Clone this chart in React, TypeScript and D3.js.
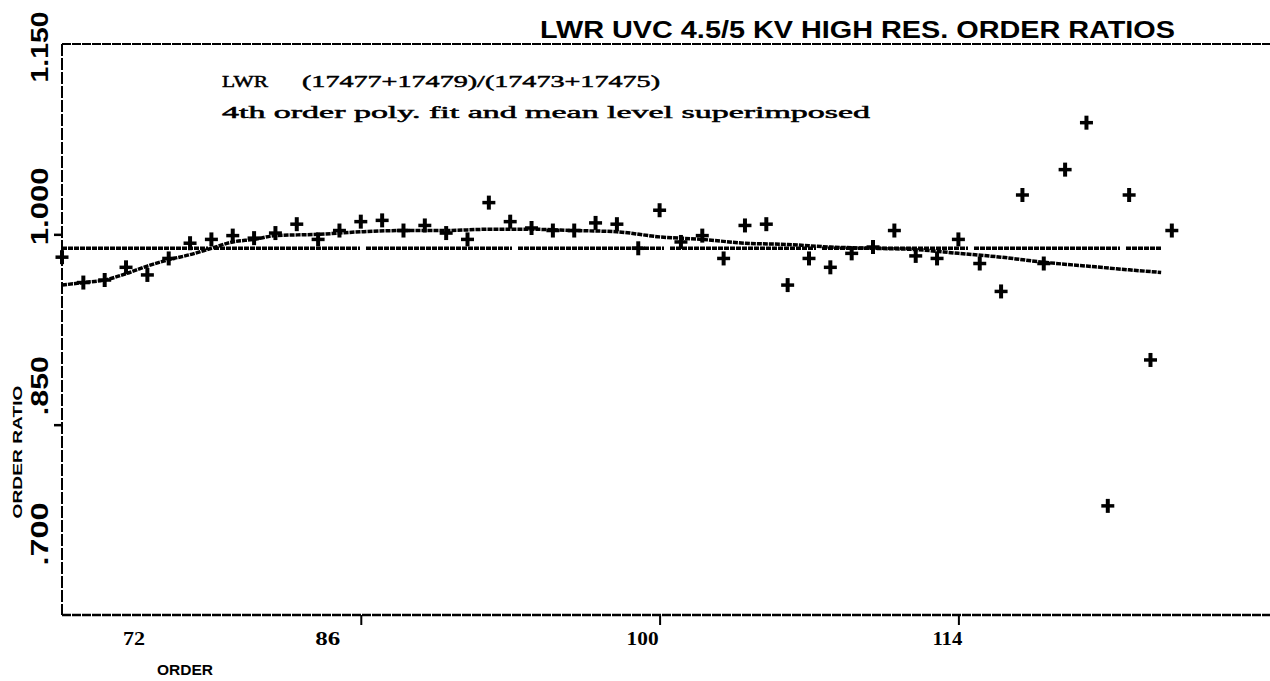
import React, { useEffect, useRef } from "react";
import * as d3 from "d3";

// echelle orders and measured ratios (one cross per order)
const orders = [
  72, 73, 74, 75, 76, 77, 78, 79, 80, 81, 82, 83, 84, 85, 86, 87, 88, 89,
  90, 91, 92, 93, 94, 95, 96, 97, 98, 99, 100, 101, 102, 103, 104, 105, 106,
  107, 108, 109, 110, 111, 112, 113, 114, 115, 116, 117, 118, 119, 120, 121,
  122, 123, 124,
];
const ratios = [
  0.982, 0.962, 0.964, 0.974, 0.968, 0.981, 0.993, 0.996, 0.999, 0.997, 1.001,
  1.008, 0.996, 1.003, 1.01, 1.011, 1.003, 1.007, 1.001, 0.996, 1.025, 1.01,
  1.005, 1.003, 1.003, 1.009, 1.008, 0.989, 1.019, 0.994, 0.999, 0.981, 1.007,
  1.008, 0.96, 0.981, 0.974, 0.985, 0.99, 1.003, 0.983, 0.981, 0.996, 0.977,
  0.955, 1.031, 0.977, 1.051, 1.088, 0.786, 1.031, 0.901, 1.003,
];

// 4th order polynomial fit
const fitOrders = [
  72, 73, 74, 75, 76, 77, 78, 79, 80, 81, 82, 84, 86, 88, 90, 92, 94, 96, 98,
  100, 102, 104, 106, 108, 110, 112, 114, 116, 118, 120, 122, 123.5,
];
const fitRatios = [
  0.96, 0.962, 0.964, 0.969, 0.975, 0.98, 0.984, 0.989, 0.994, 0.996, 0.999,
  1.0, 1.002, 1.003, 1.003, 1.004, 1.004, 1.003, 1.002, 0.998, 0.996, 0.993,
  0.992, 0.99, 0.989, 0.988, 0.985, 0.982, 0.978, 0.975, 0.972, 0.97,
];

const meanLevel = 0.989;
const meanRange = [72, 123.5];

const xTicks = [72, 86, 100, 114];
const xTickLabels = ["72", "86", "100", "114"];
const yTicks = [1.15, 1.0, 0.85, 0.7];
const yTickLabels = ["1.150", "1.000", ".850", ".700"];

const title = "LWR UVC 4.5/5 KV HIGH RES. ORDER RATIOS";
const note1a = "LWR";
const note1b = "(17477+17479)/(17473+17475)";
const note2 = "4th order poly. fit and mean level superimposed";

// layout (the old plotter put its labels off the ticks)
const xLabelShift = [72, -33, -17, -11];
const xLabelWidth = [22, 25, 32, 30];
const yLabelShift = [3, -28, -39, -81];
const yLabelWidth = [71, 78, 59, 63];

const W = 1270;
const H = 681;

// dot-matrix look: long runs of short dashes with an occasional gap
const dotMatrix = Array(24).fill("5,1").join(",") + ",2,6";

const OrderRatioChart = () => {
  const ref = useRef<SVGSVGElement>(null);

  useEffect(() => {
    const svg = d3.select(ref.current);
    svg.selectAll("*").remove();

    const x = d3.scaleLinear().domain([72, 128.6]).range([62, 1270]);
    const y = d3.scaleLinear().domain([0.7, 1.15]).range([615, 44]);

    const g = svg.append("g");

    // frame
    g.append("line")
      .attr("x1", x(72)).attr("x2", W)
      .attr("y1", y(1.15)).attr("y2", y(1.15))
      .attr("stroke", "#000").attr("stroke-width", 2)
      .attr("stroke-dasharray", "9,1");
    g.append("line")
      .attr("x1", x(72)).attr("x2", W)
      .attr("y1", y(0.7)).attr("y2", y(0.7))
      .attr("stroke", "#000").attr("stroke-width", 2.5)
      .attr("stroke-dasharray", "9,1");
    g.append("line")
      .attr("x1", x(72)).attr("x2", x(72))
      .attr("y1", y(1.15)).attr("y2", y(0.7))
      .attr("stroke", "#000").attr("stroke-width", 2)
      .attr("stroke-dasharray", "12,2");

    // tick marks
    const xAxis = g.append("g")
      .attr("transform", `translate(0,${y(0.7)})`)
      .call(d3.axisBottom(x).tickValues(xTicks.slice(1)).tickSize(10).tickFormat(() => ""));
    xAxis.select(".domain").remove();
    xAxis.selectAll("line").attr("stroke-width", 2);

    const yAxis = g.append("g")
      .attr("transform", `translate(${x(72)},0)`)
      .call(d3.axisLeft(y).tickValues([1.0, 0.85]).tickSize(8).tickFormat(() => ""));
    yAxis.select(".domain").remove();
    yAxis.selectAll("line").attr("stroke-width", 2.5);

    // tick labels
    g.selectAll(".xl")
      .data(xTicks)
      .enter()
      .append("text")
      .attr("class", "xl")
      .attr("x", (d, i) => x(d) + xLabelShift[i])
      .attr("y", 645)
      .attr("text-anchor", "middle")
      .attr("textLength", (d, i) => xLabelWidth[i])
      .attr("lengthAdjust", "spacingAndGlyphs")
      .style("font-family", "Liberation Serif")
      .style("font-weight", "bold")
      .style("font-size", "18px")
      .text((d, i) => xTickLabels[i]);

    g.selectAll(".yl")
      .data(yTicks)
      .enter()
      .append("text")
      .attr("class", "yl")
      .attr("transform", (d, i) => `translate(48,${y(d) + yLabelShift[i]}) rotate(-90)`)
      .attr("text-anchor", "middle")
      .attr("textLength", (d, i) => yLabelWidth[i])
      .attr("lengthAdjust", "spacingAndGlyphs")
      .style("font-family", "Liberation Sans")
      .style("font-weight", "bold")
      .style("font-size", "23px")
      .text((d, i) => yTickLabels[i]);

    // axis titles
    g.append("text")
      .attr("x", 185).attr("y", 675)
      .attr("text-anchor", "middle")
      .attr("textLength", 56).attr("lengthAdjust", "spacingAndGlyphs")
      .style("font-family", "Liberation Sans").style("font-weight", "bold")
      .style("font-size", "14px")
      .text("ORDER");
    g.append("text")
      .attr("transform", "translate(22,452) rotate(-90)")
      .attr("text-anchor", "middle")
      .attr("textLength", 133).attr("lengthAdjust", "spacingAndGlyphs")
      .style("font-family", "Liberation Sans").style("font-weight", "bold")
      .style("font-size", "13px")
      .text("ORDER RATIO");

    // title and notes
    g.append("text")
      .attr("x", 540).attr("y", 38)
      .attr("textLength", 635).attr("lengthAdjust", "spacingAndGlyphs")
      .style("font-family", "Liberation Sans").style("font-weight", "bold")
      .style("font-size", "23px")
      .text(title);

    const notes = g.append("g")
      .style("font-family", "Liberation Serif").style("font-size", "17px")
      .attr("stroke", "#000").attr("stroke-width", 0.5);
    notes.append("text")
      .attr("x", 222).attr("y", 87)
      .attr("textLength", 46).attr("lengthAdjust", "spacingAndGlyphs")
      .text(note1a);
    notes.append("text")
      .attr("x", 302).attr("y", 87)
      .attr("textLength", 358).attr("lengthAdjust", "spacingAndGlyphs")
      .text(note1b);
    notes.append("text")
      .attr("x", 222).attr("y", 118)
      .attr("textLength", 648).attr("lengthAdjust", "spacingAndGlyphs")
      .text(note2);

    // mean level
    g.append("line")
      .attr("x1", x(meanRange[0])).attr("x2", x(meanRange[1]))
      .attr("y1", y(meanLevel)).attr("y2", y(meanLevel))
      .attr("stroke", "#000").attr("stroke-width", 3.5)
      .attr("stroke-dasharray", dotMatrix);

    // polynomial fit
    const fitLine = d3
      .line<number>()
      .x((d, i) => x(fitOrders[i]))
      .y((d) => y(d))
      .curve(d3.curveMonotoneX);
    g.append("path")
      .attr("d", fitLine(fitRatios))
      .attr("fill", "none")
      .attr("stroke", "#000").attr("stroke-width", 3.5)
      .attr("stroke-dasharray", "5,1");

    // data crosses
    const pts = g.selectAll(".pt")
      .data(orders)
      .enter()
      .append("g")
      .attr("class", "pt")
      .attr("transform", (d, i) => `translate(${x(d)},${y(ratios[i])})`);
    pts.append("line")
      .attr("x1", 0).attr("x2", 0).attr("y1", -7).attr("y2", 7)
      .attr("stroke", "#000").attr("stroke-width", 4);
    pts.append("line")
      .attr("x1", -6.5).attr("x2", 6.5).attr("y1", 0).attr("y2", 0)
      .attr("stroke", "#000").attr("stroke-width", 3.5);
  }, []);

  return (
    <svg
      ref={ref}
      width={W}
      height={H}
      style={{ position: "absolute", left: 0, top: 0, background: "#fff" }}
    ></svg>
  );
};

export default function App() {
  return <OrderRatioChart />;
}
